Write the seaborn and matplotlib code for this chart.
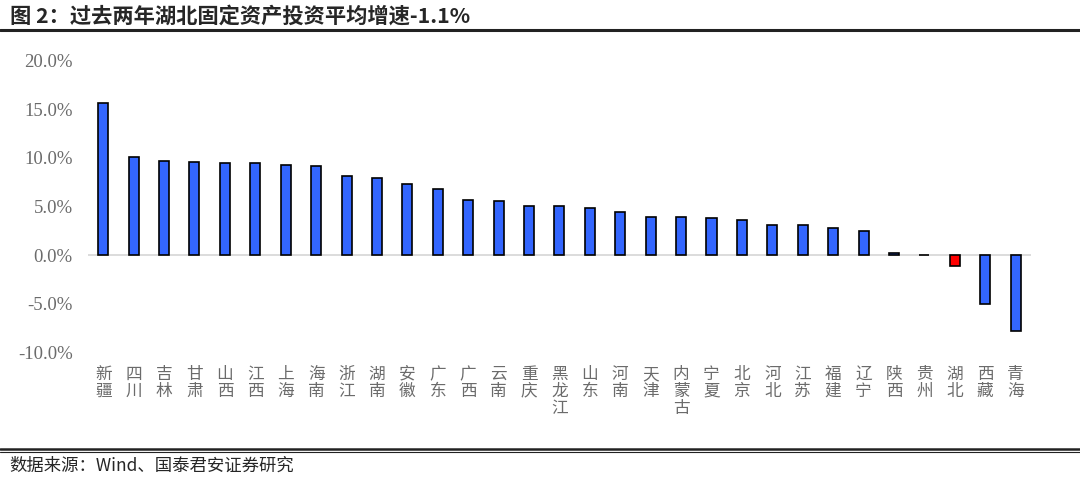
import matplotlib.pyplot as plt
import pandas as pd
import seaborn as sns
from matplotlib.lines import Line2D
from matplotlib.ticker import FuncFormatter

# dados (crescimento médio do investimento em ativos fixos, %)
provincias = [
    "新疆", "四川", "吉林", "甘肃", "山西", "江西", "上海", "海南", "浙江", "湖南",
    "安徽", "广东", "广西", "云南", "重庆", "黑龙江", "山东", "河南", "天津", "内蒙古",
    "宁夏", "北京", "河北", "江苏", "福建", "辽宁", "陕西", "贵州", "湖北", "西藏", "青海",
]
crescimento = [
    15.7, 10.1, 9.7, 9.55, 9.5, 9.45, 9.3, 9.2, 8.1, 7.9,
    7.3, 6.8, 5.7, 5.6, 5.1, 5.05, 4.85, 4.4, 3.95, 3.9,
    3.8, 3.6, 3.1, 3.05, 2.75, 2.5, 0.2, 0.05, -1.1, -5.0, -7.8,
]
destaque = "湖北"
yticks = [-10, -5, 0, 5, 10, 15, 20]

AZUL = "#3366FF"
VERMELHO = "#FF0000"
CINZA = "#6b6b6b"
CJK = ["Noto Sans CJK SC", "DejaVu Sans"]
SERIF = ["Liberation Serif", "Noto Sans CJK SC"]

sns.set_style("white")
plt.rcParams["font.family"] = CJK

df = pd.DataFrame({"provincia": provincias, "crescimento": crescimento})
cores = {p: (VERMELHO if p == destaque else AZUL) for p in provincias}

fig = plt.figure(figsize=(10.8, 4.84), dpi=100)
ax = fig.add_axes([0.0815, 0.2727, 0.873, 0.6013])

sns.barplot(
    data=df,
    x="provincia",
    y="crescimento",
    hue="provincia",
    palette=cores,
    saturation=1,
    legend=False,
    width=0.33,
    edgecolor="black",
    linewidth=1.2,
    ax=ax,
)

ax.set_xlim(-0.5, len(provincias) - 0.5)
ax.set_ylim(-10, 20)
ax.set_yticks(yticks)
ax.yaxis.set_major_formatter(FuncFormatter(lambda v, _: f"{v:.1f}%"))
for lbl in ax.get_yticklabels():
    lbl.set_fontfamily(SERIF)
    lbl.set_fontsize(13.5)
    lbl.set_color(CINZA)
ax.tick_params(axis="y", length=0, pad=11)

ax.set_xticks(range(len(provincias)))
ax.set_xticklabels(["\n".join(p) for p in provincias], fontsize=12, color=CINZA,
                   linespacing=1.0, va="top")
ax.tick_params(axis="x", length=0, pad=10)

ax.axhline(0, color="#d9d9d9", linewidth=1.3, zorder=0)
for s in ax.spines.values():
    s.set_visible(False)
ax.set_xlabel("")
ax.set_ylabel("")
ax.grid(False)

# título, linhas de moldura e fonte
fig.text(0.009, 0.967, "图 2：过去两年湖北固定资产投资平均增速-1.1%", fontsize=15.3,
         fontweight="bold", va="center", ha="left", family=CJK)
fig.add_artist(Line2D([0, 1], [0.938, 0.938], color="#222222", linewidth=2.2))
fig.add_artist(Line2D([0, 1], [0.0715, 0.0715], color="#222222", linewidth=1.8))
fig.add_artist(Line2D([0, 1], [0.0665, 0.0665], color="#222222", linewidth=0.8))
fig.text(0.009, 0.037, "数据来源：Wind、国泰君安证券研究", fontsize=12.5,
         va="center", ha="left", family=CJK)

plt.savefig("out.png", dpi=100)
plt.close()
